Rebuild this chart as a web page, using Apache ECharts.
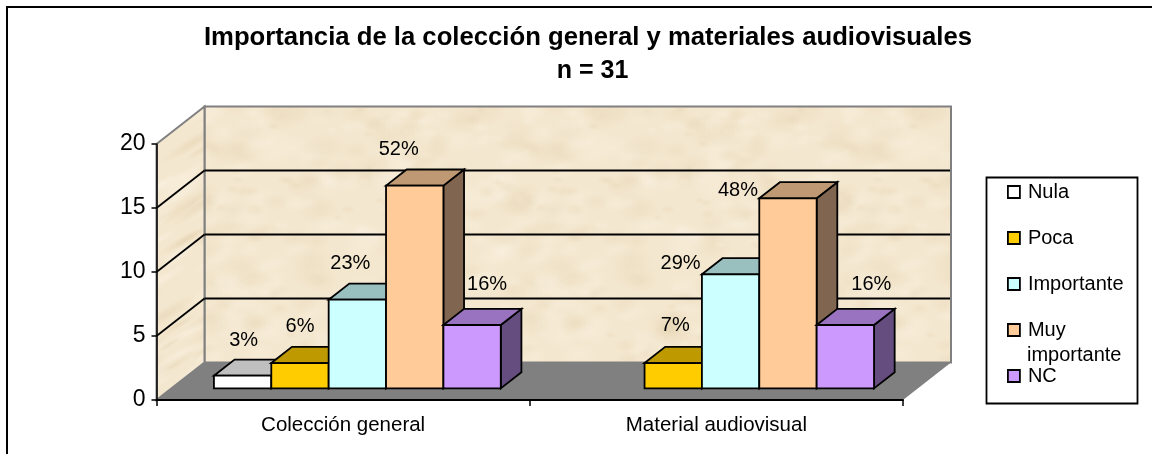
<!DOCTYPE html>
<html><head><meta charset="utf-8">
<style>html,body{margin:0;padding:0;background:#fff}#c{width:1152px;height:454px}</style>
<script src="https://cdn.jsdelivr.net/npm/echarts@6/dist/echarts.min.js"></script>
</head><body><div id="c"></div>
<script>
const categories = ['Colección general', 'Material audiovisual'];
const seriesNames = ['Nula', 'Poca', 'Importante', 'Muy importante', 'NC'];
const nula = [1, 0];
const poca = [2, 2];
const importante = [7, 9];
const muyImportante = [16, 15];
const nc = [5, 5];
const nulaPct = ['3%', ''];
const pocaPct = ['6%', '7%'];
const importantePct = ['23%', '29%'];
const muyImportantePct = ['52%', '48%'];
const ncPct = ['16%', '16%'];
const yTicks = [0, 5, 10, 15, 20];

const allValues = [nula, poca, importante, muyImportante, nc];
const allPct = [nulaPct, pocaPct, importantePct, muyImportantePct, ncPct];
const fronts = ['#FFFFFF', '#FFCC00', '#CCFFFF', '#FFCC99', '#CC99FF'];
const tops = ['#BFBFBF', '#BF9900', '#99BFBF', '#BF9973', '#9973BF'];
const sides = ['#808080', '#806600', '#668080', '#806650', '#664D80'];
// label offset from the top-front centre of each bar [dx, dy]
const nudges = [
  [[1, -35], [0, 0]],
  [[0, -37], [2, -38]],
  [[-7, -36], [-50, -11]],
  [[-16, -36], [-50, -8]],
  [[15, -41], [26, -41]]
];

const FONT = '"Liberation Sans", Arial, sans-serif';
const DEPTH = [48, -37.5];
const BAR_D0 = 0.31, BAR_D1 = 0.74, BAR_SCALE = 0.99;
const CAT_PAD = 0.114, SLOT = 0.1537;

function hash(i) { const s = Math.sin(i * 12.9898 + 4.1) * 43758.5453; return s - Math.floor(s); }
function texture(sx, sy, rot, n, alpha, rMax) {
  const cv = document.createElement('canvas'); cv.width = 320; cv.height = 320;
  const g = cv.getContext('2d');
  g.fillStyle = '#F4E7CF'; g.fillRect(0, 0, 320, 320);
  for (let i = 0; i < n; i++) {
    const x = hash(i) * 320, y = hash(i + 500) * 320, r = 4 + hash(i + 900) * rMax;
    const dark = hash(i + 1300) > 0.55;
    for (const ox of [-320, 0, 320]) for (const oy of [-320, 0, 320]) {
      g.save(); g.translate(x + ox, y + oy); g.rotate(rot); g.scale(sx, sy);
      const gr = g.createRadialGradient(0, 0, 0, 0, 0, r);
      const c = dark ? '226,208,172' : '250,244,230';
      gr.addColorStop(0, `rgba(${c},${alpha})`); gr.addColorStop(1, `rgba(${c},0)`);
      g.fillStyle = gr; g.beginPath(); g.arc(0, 0, r, 0, 7); g.fill(); g.restore();
    }
  }
  return cv;
}
const backTex = texture(1.3, 0.8, 0, 420, 0.28, 14);
const sideTex = texture(1.8, 0.3, -0.55, 260, 0.5, 22);

function poly(points, fill, stroke, lw, z2) {
  return { type: 'polygon', z2: z2 || 0, shape: { points },
    style: { fill, stroke: stroke || 'none', lineWidth: lw || 0 }, silent: true };
}
function line(a, b, stroke, lw, z2) {
  return { type: 'line', z2: z2 || 0, silent: true,
    shape: { x1: a[0], y1: a[1], x2: b[0], y2: b[1] }, style: { stroke, lineWidth: lw } };
}

function renderWalls(params, api) {
  const cs = params.coordSys;
  const L = cs.x, R = cs.x + cs.width;
  const y0 = api.coord([0, 0])[1], yT = api.coord([0, 20])[1];
  const dx = DEPTH[0], dy = DEPTH[1];
  const kids = [
    poly([[L + dx, yT + dy], [R + dx, yT + dy], [R + dx, y0 + dy], [L + dx, y0 + dy]], { image: backTex, repeat: 'repeat' }, '#808080', 2),
    poly([[L, yT], [L + dx, yT + dy], [L + dx, y0 + dy], [L, y0]], { image: sideTex, repeat: 'repeat' }, '#808080', 2),
    poly([[L, y0], [L + dx, y0 + dy], [R + dx, y0 + dy], [R, y0]], '#808080')
  ];
  yTicks.slice(1, -1).forEach(v => {
    const y = api.coord([0, v])[1];
    kids.push(line([L, y], [L + dx, y + dy], '#000', 1.8, 2));
    kids.push(line([L + dx, y + dy], [R + dx - 1, y + dy], '#000', 1.8, 2));
  });
  return { type: 'group', children: kids };
}

function makeRender(si) {
  return function (params, api) {
    const cat = api.value(0), val = api.value(1);
    if (!val) return null;
    const band = api.size([1, 0])[0];
    const base = api.coord([cat, 0]), top = api.coord([cat, val]);
    const left = base[0] - band / 2 + band * (CAT_PAD + SLOT * si);
    const w = band * SLOT;
    const d0x = DEPTH[0] * BAR_D0, d0y = DEPTH[1] * BAR_D0;
    const d1x = DEPTH[0] * BAR_D1, d1y = DEPTH[1] * BAR_D1;
    const x0 = left + d0x, x1 = left + w + d0x;
    const yb = base[1] + d0y, yt = yb - (base[1] - top[1]) * BAR_SCALE;
    const bx = d1x - d0x, by = d1y - d0y;
    const n = nudges[si][cat];
    return { type: 'group', children: [
      poly([[x1, yb], [x1 + bx, yb + by], [x1 + bx, yt + by], [x1, yt]], sides[si], '#000', 1.8),
      poly([[x0, yt], [x0 + bx, yt + by], [x1 + bx, yt + by], [x1, yt]], tops[si], '#000', 1.8),
      poly([[x0, yb], [x0, yt], [x1, yt], [x1, yb]], fronts[si], '#000', 1.8),
      { type: 'text', z2: 100, silent: true,
        style: { x: (x0 + x1) / 2 + n[0], y: yt + n[1], text: allPct[si][cat], align: 'center', verticalAlign: 'middle',
          fill: '#000', font: '20px ' + FONT } }
    ] };
  };
}

const titleStyle = { fontSize: 25.7, fontWeight: 'bold', color: '#000', fontFamily: FONT };
const chart = echarts.init(document.getElementById('c'), null, { renderer: 'canvas' });
chart.setOption({
  animation: false,
  backgroundColor: '#fff',
  textStyle: { fontFamily: FONT, color: '#000' },
  title: [
    { text: 'Importancia de la colección general y materiales audiovisuales', left: 583, top: 20, textAlign: 'center', textStyle: titleStyle },
    { text: 'n = 31', left: 587.5, top: 54, textAlign: 'center', textStyle: { ...titleStyle, fontSize: 25 } }
  ],
  grid: { left: 156.5, top: 144, width: 746.5, height: 256, containLabel: false },
  xAxis: {
    type: 'category', data: categories, z: 10,
    axisLine: { lineStyle: { color: '#000', width: 2 } },
    axisTick: { show: true, length: 6, alignWithLabel: false, lineStyle: { color: '#000', width: 1.5 } },
    axisLabel: { fontSize: 20.5, color: '#000', margin: 15 }
  },
  yAxis: {
    type: 'value', min: 0, max: 20, interval: 5, z: 10,
    axisLine: { show: true, lineStyle: { color: '#000', width: 1.5 } },
    axisTick: { show: true, length: 5, lineStyle: { color: '#000', width: 1.5 } },
    axisLabel: { fontSize: 23, color: '#000', margin: 11 },
    splitLine: { show: false }
  },
  legend: {
    data: seriesNames, orient: 'vertical', left: 1007, top: 182, padding: 0,
    itemWidth: 12, itemHeight: 12, itemGap: 26, icon: 'rect', selectedMode: false,
    itemStyle: { borderColor: '#000', borderWidth: 1.8 },
    formatter: n => n === 'Muy importante' ? 'Muy' : n,
    textStyle: { fontSize: 20, color: '#000', lineHeight: 18, padding: [0, 0, 0, 3] }
  },
  graphic: [
    { type: 'rect', silent: true, shape: { x: 7, y: 7, width: 1160, height: 470 }, style: { fill: 'none', stroke: '#000', lineWidth: 2 }, z: -1 },
    { type: 'rect', silent: true, shape: { x: 986.5, y: 177.5, width: 151, height: 226 }, style: { fill: '#fff', stroke: '#000', lineWidth: 1.8 }, z: -1 },
    { type: 'text', silent: true, z: 200, style: { x: 1027, y: 355, text: 'importante', verticalAlign: 'middle', fill: '#000', font: '20px ' + FONT } }
  ],
  series: [
    { type: 'custom', silent: true, z: 1, renderItem: renderWalls, data: [[0, 0]], encode: { x: 0, y: 1 } }
  ].concat(seriesNames.map((name, si) => ({
    type: 'custom', name, silent: true, z: 3 + si, renderItem: makeRender(si),
    itemStyle: { color: fronts[si] },
    encode: { x: 0, y: 1 },
    data: categories.map((c, i) => [i, allValues[si][i]])
  })))
});
</script></body></html>
